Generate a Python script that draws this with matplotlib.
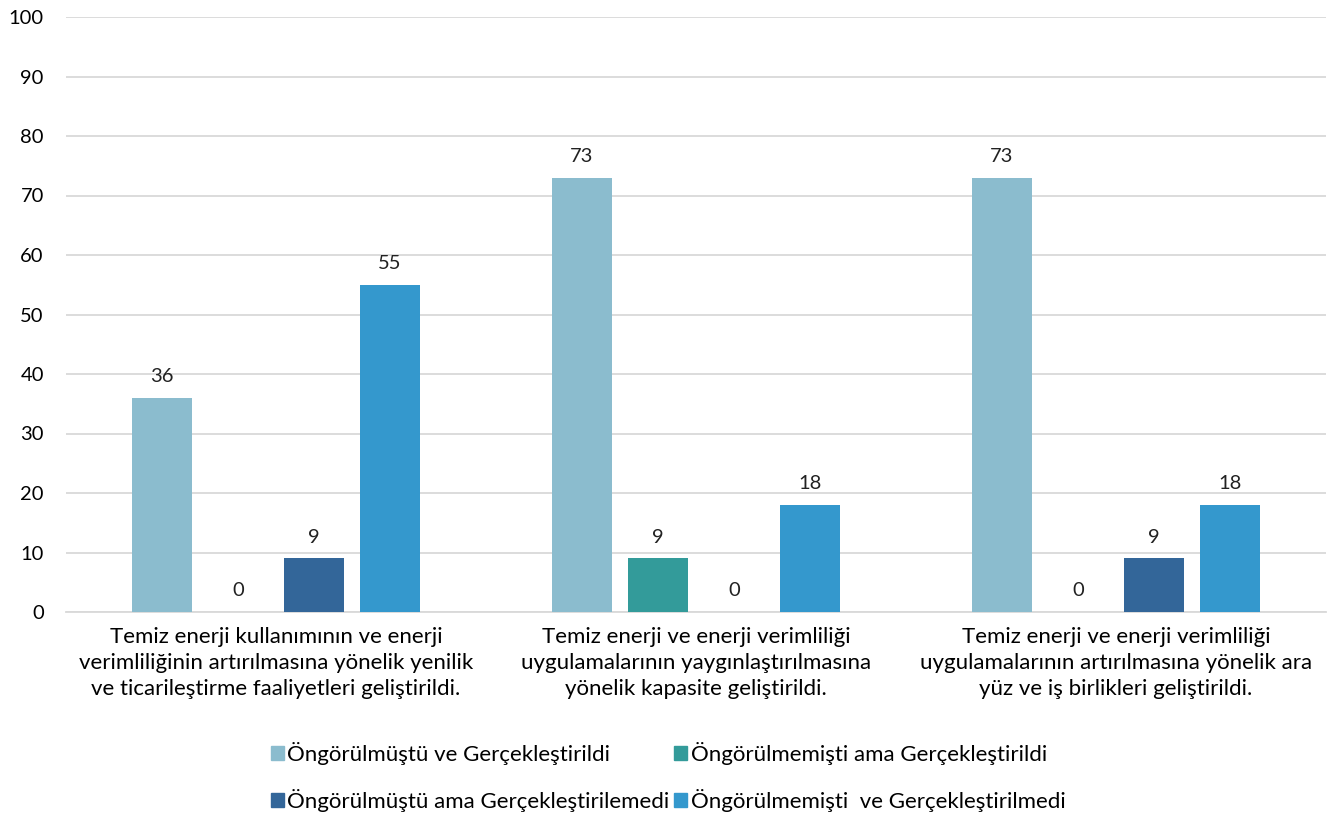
import numpy as np
import matplotlib.pyplot as plt
from matplotlib.patches import Patch

plt.rcParams['font.family'] = ['Lato', 'DejaVu Sans']

categories = [
    "Temiz enerji kullanımının ve enerji\nverimliliğinin artırılmasına yönelik yenilik\nve ticarileştirme faaliyetleri geliştirildi.",
    "Temiz enerji ve enerji verimliliği\nuygulamalarının yaygınlaştırılmasına\nyönelik kapasite geliştirildi.",
    "Temiz enerji ve enerji verimliliği\nuygulamalarının artırılmasına yönelik ara\nyüz ve iş birlikleri geliştirildi.",
]
series_names = [
    "Öngörülmüştü ve Gerçekleştirildi",
    "Öngörülmemişti ama Gerçekleştirildi",
    "Öngörülmüştü ama Gerçekleştirilemedi",
    "Öngörülmemişti  ve Gerçekleştirilmedi",
]
values = [
    [36, 73, 73],
    [0, 9, 0],
    [9, 0, 9],
    [55, 18, 18],
]
colors = ["#8BBCCE", "#339B9A", "#336699", "#3498CD"]
y_ticks = list(range(0, 101, 10))

fig = plt.figure(figsize=(13.27, 8.17), dpi=100)
ax = fig.add_axes([66 / 1327, 205 / 817, 1260 / 1327, 595 / 817])

x = np.arange(len(categories))
step = 0.181
width = 0.143
for i, (name, vals, c) in enumerate(zip(series_names, values, colors)):
    pos = x + (i - 1.5) * step
    ax.bar(pos, vals, width, color=c, label=name, zorder=3)
    for xp, v in zip(pos, vals):
        ax.annotate(str(v), (xp, v), xytext=(0, 9), textcoords='offset points',
                    ha='center', va='bottom', fontsize=14.5, color='#222222')

ax.set_xlim(-0.5, 2.5)
ax.set_ylim(0, 100)
ax.set_yticks(y_ticks)
ax.set_yticklabels([str(t) for t in y_ticks], fontsize=14.5)
ax.yaxis.grid(True, color='#D9D9D9', linewidth=1.3, zorder=0)
ax.set_xticks(x)
ax.set_xticklabels(categories, fontsize=16, linespacing=1.38)
ax.tick_params(axis='both', length=0)
ax.tick_params(axis='y', pad=16)
ax.tick_params(axis='x', pad=11)
for s in ['top', 'right', 'left']:
    ax.spines[s].set_visible(False)
ax.spines['bottom'].set_color('#D9D9D9')
ax.spines['bottom'].set_linewidth(1.3)

handles = [Patch(color=c) for c in colors]
order = [0, 2, 1, 3]
fig.legend([handles[i] for i in order], [series_names[i] for i in order],
           loc='center', bbox_to_anchor=(668 / 1327, 1 - 777 / 817), ncol=2,
           frameon=False, fontsize=16, handlelength=0.6, handleheight=0.6,
           handletextpad=0.15, columnspacing=0.2, labelspacing=1.1)

fig.savefig('out.png', dpi=100)
